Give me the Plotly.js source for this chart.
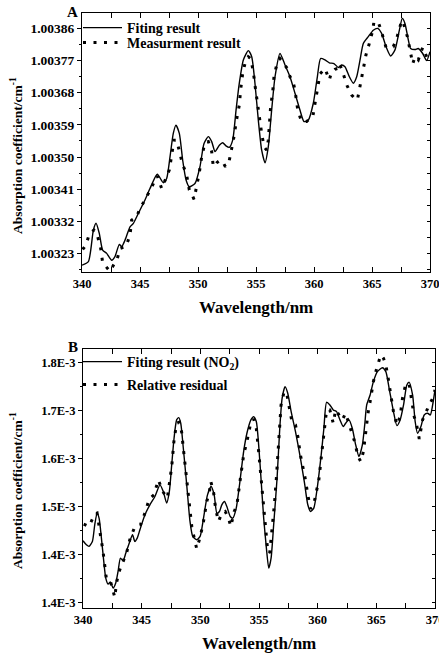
<!DOCTYPE html>
<html><head><meta charset="utf-8">
<script src="https://cdn.plot.ly/plotly-3.0.1.min.js"></script>
<style>html,body{margin:0;padding:0;background:#fff}#chart{width:439px;height:654px}</style>
</head><body><div id="chart"></div>
<script>
// ---- Panel A data ----
const wlFitA = [340.00,340.55,340.98,341.21,341.49,341.78,342.13,342.56,342.84,343.22,343.42,343.71,344.14,344.43,344.86,345.43,345.86,346.49,347.01,347.30,347.59,347.87,348.10,348.39,348.68,348.97,349.25,349.74,350.17,350.52,350.89,351.18,351.47,351.84,352.13,352.41,352.70,352.99,353.28,353.56,353.91,354.34,354.63,354.91,355.20,355.49,355.78,356.06,356.35,356.64,357.07,357.50,357.93,358.36,358.79,359.14,359.51,359.94,360.29,360.57,360.95,361.32,361.72,362.10,362.39,362.67,363.05,363.39,363.68,363.97,364.25,364.68,365.11,365.49,365.83,366.21,366.61,366.98,367.36,367.61,367.84,368.13,368.33,368.71,368.99,369.37,369.71,370.00];
const fitA = [1.003198,1.003208,1.003296,1.003315,1.003287,1.003240,1.003231,1.003212,1.003222,1.003256,1.003250,1.003268,1.003305,1.003315,1.003343,1.003380,1.003412,1.003452,1.003428,1.003440,1.003501,1.003566,1.003589,1.003566,1.003491,1.003436,1.003417,1.003426,1.003473,1.003538,1.003557,1.003543,1.003515,1.003533,1.003540,1.003531,1.003527,1.003547,1.003631,1.003706,1.003771,1.003797,1.003780,1.003706,1.003603,1.003519,1.003484,1.003529,1.003631,1.003724,1.003789,1.003757,1.003724,1.003678,1.003631,1.003599,1.003603,1.003650,1.003724,1.003775,1.003771,1.003763,1.003761,1.003750,1.003757,1.003752,1.003724,1.003706,1.003724,1.003771,1.003817,1.003836,1.003854,1.003859,1.003845,1.003808,1.003782,1.003799,1.003854,1.003887,1.003873,1.003827,1.003803,1.003800,1.003803,1.003789,1.003769,1.003794];
const wlMeasA = [340.06,340.34,340.63,341.03,341.26,341.61,341.78,342.41,343.05,343.28,343.56,343.79,344.14,344.28,344.71,345.00,345.43,345.86,346.09,346.49,346.87,347.53,347.73,347.93,348.16,348.45,348.65,349.02,349.25,349.45,349.66,350.11,350.32,350.60,350.89,351.18,351.32,351.61,351.90,352.13,352.36,352.70,353.05,353.33,353.56,353.68,353.85,354.05,354.34,354.54,354.77,354.91,355.06,355.29,355.49,355.69,355.92,356.06,356.26,356.44,356.55,356.78,357.07,357.41,357.70,357.93,358.16,358.36,358.56,358.79,358.94,359.14,359.37,359.66,359.89,360.09,360.29,360.52,360.95,361.32,361.52,361.81,362.01,362.18,362.39,362.67,362.87,363.25,363.45,363.74,363.91,364.11,364.31,364.48,364.77,365.06,365.17,365.55,365.78,365.98,366.21,366.84,367.13,367.56,367.76,368.05,368.28,368.51,368.71,368.99,369.37,369.86];
const measA = [1.003242,1.003254,1.003285,1.003296,1.003289,1.003245,1.003205,1.003181,1.003217,1.003245,1.003248,1.003250,1.003282,1.003324,1.003333,1.003357,1.003380,1.003408,1.003422,1.003447,1.003412,1.003464,1.003505,1.003547,1.003547,1.003510,1.003482,1.003450,1.003408,1.003397,1.003382,1.003456,1.003501,1.003540,1.003543,1.003515,1.003473,1.003484,1.003491,1.003487,1.003473,1.003491,1.003547,1.003605,1.003645,1.003689,1.003733,1.003761,1.003780,1.003775,1.003738,1.003701,1.003659,1.003612,1.003566,1.003529,1.003519,1.003547,1.003640,1.003682,1.003724,1.003757,1.003775,1.003761,1.003747,1.003724,1.003715,1.003687,1.003640,1.003612,1.003599,1.003599,1.003599,1.003608,1.003611,1.003650,1.003689,1.003732,1.003747,1.003715,1.003738,1.003745,1.003747,1.003761,1.003745,1.003720,1.003698,1.003673,1.003666,1.003659,1.003689,1.003724,1.003761,1.003785,1.003817,1.003853,1.003878,1.003875,1.003854,1.003831,1.003806,1.003808,1.003831,1.003881,1.003868,1.003836,1.003799,1.003760,1.003780,1.003771,1.003806,1.003769];
const tickValsA = [1.00323,1.00332,1.00341,1.00350,1.00359,1.00368,1.00377,1.00386];
const tickTextA = ['1.00323','1.00332','1.00341','1.00350','1.00359','1.00368','1.00377','1.00386'];

// ---- Panel B data (values in units of 1E-3) ----
const wlFitB = [340.00,340.29,340.51,340.80,341.00,341.20,341.37,341.57,341.77,341.94,342.14,342.34,342.57,342.79,342.99,343.19,343.42,343.65,343.99,344.22,344.42,344.62,344.85,345.28,345.70,346.13,346.56,346.84,347.13,347.36,347.56,347.76,347.98,348.16,348.33,348.55,348.84,349.12,349.35,349.69,349.98,350.27,350.61,350.92,351.18,351.41,351.63,351.83,352.06,352.26,352.55,352.77,353.06,353.34,353.69,353.97,354.31,354.54,354.77,354.97,355.17,355.40,355.63,355.83,356.03,356.25,356.54,356.77,356.97,357.22,357.45,357.74,358.11,358.53,358.88,359.16,359.39,359.67,359.96,360.30,360.53,360.76,361.04,361.33,361.61,361.90,362.18,362.38,362.67,362.95,363.24,363.52,363.81,364.01,364.18,364.47,364.75,365.09,365.52,365.81,366.09,366.46,366.75,367.03,367.32,367.60,367.80,368.09,368.31,368.51,368.80,369.08,369.37,369.60,369.80,370.00];
const fitB = [1.4293,1.4210,1.4176,1.4279,1.4625,1.4867,1.4763,1.4348,1.3864,1.3518,1.3394,1.3435,1.3311,1.3415,1.3657,1.3933,1.3878,1.4037,1.4279,1.4418,1.4279,1.4348,1.4521,1.4832,1.5040,1.5213,1.5455,1.5317,1.5075,1.5317,1.5870,1.6423,1.6804,1.6852,1.6734,1.6216,1.5455,1.4694,1.4383,1.4314,1.4383,1.4763,1.5247,1.5420,1.5247,1.4867,1.4902,1.5040,1.5109,1.5005,1.4798,1.4763,1.4971,1.5455,1.6147,1.6527,1.6804,1.6873,1.6769,1.6285,1.5593,1.4763,1.4141,1.3726,1.3933,1.4625,1.5593,1.6631,1.7253,1.7495,1.7357,1.6976,1.6561,1.6008,1.5489,1.5040,1.4902,1.4971,1.5386,1.6077,1.6631,1.7170,1.7115,1.7011,1.6976,1.6804,1.6665,1.6734,1.6804,1.6631,1.6285,1.6043,1.6285,1.6700,1.7115,1.7322,1.7599,1.7806,1.7889,1.7806,1.7461,1.6976,1.6686,1.6804,1.7115,1.7530,1.7585,1.7322,1.6769,1.6527,1.6665,1.6907,1.6942,1.6907,1.7115,1.7426];
const wlResB = [340.06,340.51,341.00,341.20,341.48,341.71,342.00,342.34,342.71,342.85,343.08,343.36,343.71,343.99,344.42,344.90,345.28,345.65,346.05,346.42,346.79,347.19,347.56,347.76,347.98,348.21,348.41,348.61,348.84,349.07,349.27,349.47,349.69,349.98,350.27,350.55,350.78,350.89,351.12,351.32,351.55,351.83,352.12,352.40,352.60,352.89,353.12,353.34,353.54,353.69,353.97,354.26,354.54,354.77,354.97,355.17,355.34,355.54,355.74,355.91,356.11,356.31,356.48,356.60,356.77,356.88,357.11,357.34,357.54,357.83,358.11,358.31,358.53,358.76,358.96,359.16,359.39,359.67,359.90,360.10,360.30,360.53,360.76,361.04,361.33,361.53,361.81,362.10,362.38,362.67,362.87,363.15,363.44,363.67,363.90,364.01,364.18,364.29,364.52,364.75,365.03,365.38,365.61,365.81,366.01,366.24,366.46,366.75,367.03,367.23,367.52,367.80,368.03,368.23,368.46,368.66,368.94,369.23,369.51,369.80,370.00];
const resB = [1.4639,1.4590,1.4846,1.4867,1.4418,1.4072,1.3484,1.3449,1.3117,1.3415,1.3657,1.3830,1.4037,1.4314,1.4590,1.4625,1.4867,1.5164,1.5247,1.5559,1.5317,1.5178,1.5835,1.6389,1.6734,1.6755,1.6548,1.6077,1.5524,1.4971,1.4590,1.4362,1.4127,1.4362,1.4694,1.5109,1.5317,1.5524,1.5317,1.4936,1.4694,1.4867,1.4902,1.4763,1.4590,1.4902,1.5040,1.5455,1.5801,1.6077,1.6354,1.6700,1.6824,1.6631,1.6147,1.5593,1.5040,1.4487,1.4086,1.4037,1.4487,1.5040,1.5593,1.6077,1.6561,1.7115,1.7357,1.7391,1.7115,1.6734,1.6700,1.6458,1.6077,1.5835,1.5559,1.5247,1.4957,1.5054,1.5317,1.5559,1.6008,1.6527,1.7011,1.7011,1.6734,1.7011,1.6907,1.6804,1.6942,1.6734,1.6596,1.6354,1.6043,1.5939,1.6147,1.6389,1.6700,1.6942,1.7253,1.7599,1.7876,1.8152,1.8083,1.7945,1.7668,1.7357,1.6976,1.6700,1.6873,1.7253,1.7564,1.7544,1.7219,1.6873,1.6665,1.6409,1.6804,1.6976,1.7115,1.7253,1.7426];
const tickValsB = [1.3,1.4,1.5,1.6,1.7,1.8];
const tickTextB = ['1.4E-3','1.4E-3','1.5E-3','1.6E-3','1.7E-3','1.8E-3'];

const legendNames = ['Fiting result','Measurment result','Fiting result (NO<sub>2</sub>)','Relative residual'];
const xTitle = 'Wavelength/nm';
const yTitle = 'Absorption coefficient/cm<sup>-1</sup>';

const FF = 'Liberation Serif';
const W = 439, H = 654;
const px = v => v / W, py = v => 1 - v / H;

const fitLine = {color:'#000', width:1.4, shape:'spline', smoothing:0.6};
const dotLine = {color:'#000', width:3, dash:'3px,7.5px'};

const traces = [
  {x:wlFitA, y:fitA, xaxis:'x', yaxis:'y', mode:'lines', line:fitLine, name:legendNames[0], legend:'legend'},
  {x:wlMeasA, y:measA, xaxis:'x', yaxis:'y', mode:'lines', line:dotLine, name:legendNames[1], legend:'legend2'},
  {x:wlFitB, y:fitB, xaxis:'x2', yaxis:'y2', mode:'lines', line:fitLine, name:legendNames[2], legend:'legend3'},
  {x:wlResB, y:resB, xaxis:'x2', yaxis:'y2', mode:'lines', line:dotLine, name:legendNames[3], legend:'legend4'},
  {x:[], y:[], xaxis:'x', yaxis:'y3', showlegend:false, hoverinfo:'skip'},
  {x:[], y:[], xaxis:'x2', yaxis:'y4', showlegend:false, hoverinfo:'skip'}
];

function xAx(domain, anchor) {
  return {domain, anchor, range:[340,370], tickmode:'linear', tick0:340, dtick:5,
    ticks:'inside', ticklen:5, tickwidth:1, tickcolor:'#000', ticklabeloverflow:'allow',
    minor:{ticks:'inside', ticklen:3, tickwidth:1, tickcolor:'#000', tickmode:'linear', tick0:340, dtick:2.5},
    showline:true, linecolor:'#000', linewidth:1, mirror:'allticks',
    showgrid:false, zeroline:false,
    tickfont:{family:FF, size:12.5, weight:'bold', color:'#000'}};
}
function yAx(domain, anchor, range, tv, tt, t0, md, fs) {
  return {domain, anchor, range, tickmode:'array', tickvals:tv, ticktext:tt,
    ticks:'outside', ticklen:4, tickwidth:1, tickcolor:'#000', ticklabeloverflow:'allow',
    minor:{ticks:'outside', ticklen:2, tickwidth:1, tickcolor:'#000', tickmode:'linear', tick0:t0, dtick:md},
    showline:true, linecolor:'#000', linewidth:1, mirror:true,
    showgrid:false, zeroline:false,
    tickfont:{family:FF, size:fs, weight:'bold', color:'#000'}};
}
function yOv(over, anchor, range, tv, t0, md) {
  return {overlaying:over, anchor, side:'right', range, tickmode:'array', tickvals:tv,
    ticks:'inside', ticklen:3, tickwidth:1, tickcolor:'#000', showticklabels:false,
    minor:{ticks:'inside', ticklen:3, tickwidth:1, tickcolor:'#000', tickmode:'linear', tick0:t0, dtick:md},
    showline:false, showgrid:false, zeroline:false};
}

const rangeA = [1.003179, 1.003902];
const rangeB = [1.2896, 1.8277];

function leg(y) {
  return {x:px(78), y:py(y), xanchor:'left', yanchor:'middle', bgcolor:'rgba(0,0,0,0)',
    borderwidth:0, itemwidth:39, font:{family:FF, size:14, weight:'bold', color:'#000'}};
}
function ann(text, x, y, size, angle) {
  return {text, x:px(x), y:py(y), xref:'paper', yref:'paper', showarrow:false,
    xanchor:'center', yanchor:'middle', textangle:angle||0,
    font:{family:FF, size, weight:'bold', color:'#000'}};
}

const layout = {
  width:W, height:H, margin:{l:0, r:0, t:0, b:0},
  paper_bgcolor:'#fff', plot_bgcolor:'#fff', showlegend:true,
  xaxis: xAx([px(82), px(430)], 'y'),
  yaxis: yAx([py(272), py(13)], 'x', rangeA, tickValsA, tickTextA, 1.00323, 0.000045, 13.5),
  yaxis3: yOv('y', 'x', rangeA, tickValsA, 1.00323, 0.000045),
  xaxis2: xAx([px(83), px(435)], 'y2'),
  yaxis2: yAx([py(608), py(349)], 'x2', rangeB, tickValsB, tickTextB, 1.3, 0.05, 12.5),
  yaxis4: yOv('y2', 'x2', rangeB, tickValsB, 1.3, 0.05),
  legend: leg(28), legend2: leg(43), legend3: leg(362), legend4: leg(385),
  annotations: [
    ann(xTitle, 256, 307, 17), ann(xTitle, 259, 643, 17),
    ann(yTitle, 16, 156, 13.5, -90), ann(yTitle, 16, 491, 13.5, -90),
    ann('A', 72, 12, 15), ann('B', 73, 347, 15)
  ]
};

Plotly.newPlot('chart', traces, layout, {staticPlot:true, displayModeBar:false});
</script></body></html>
